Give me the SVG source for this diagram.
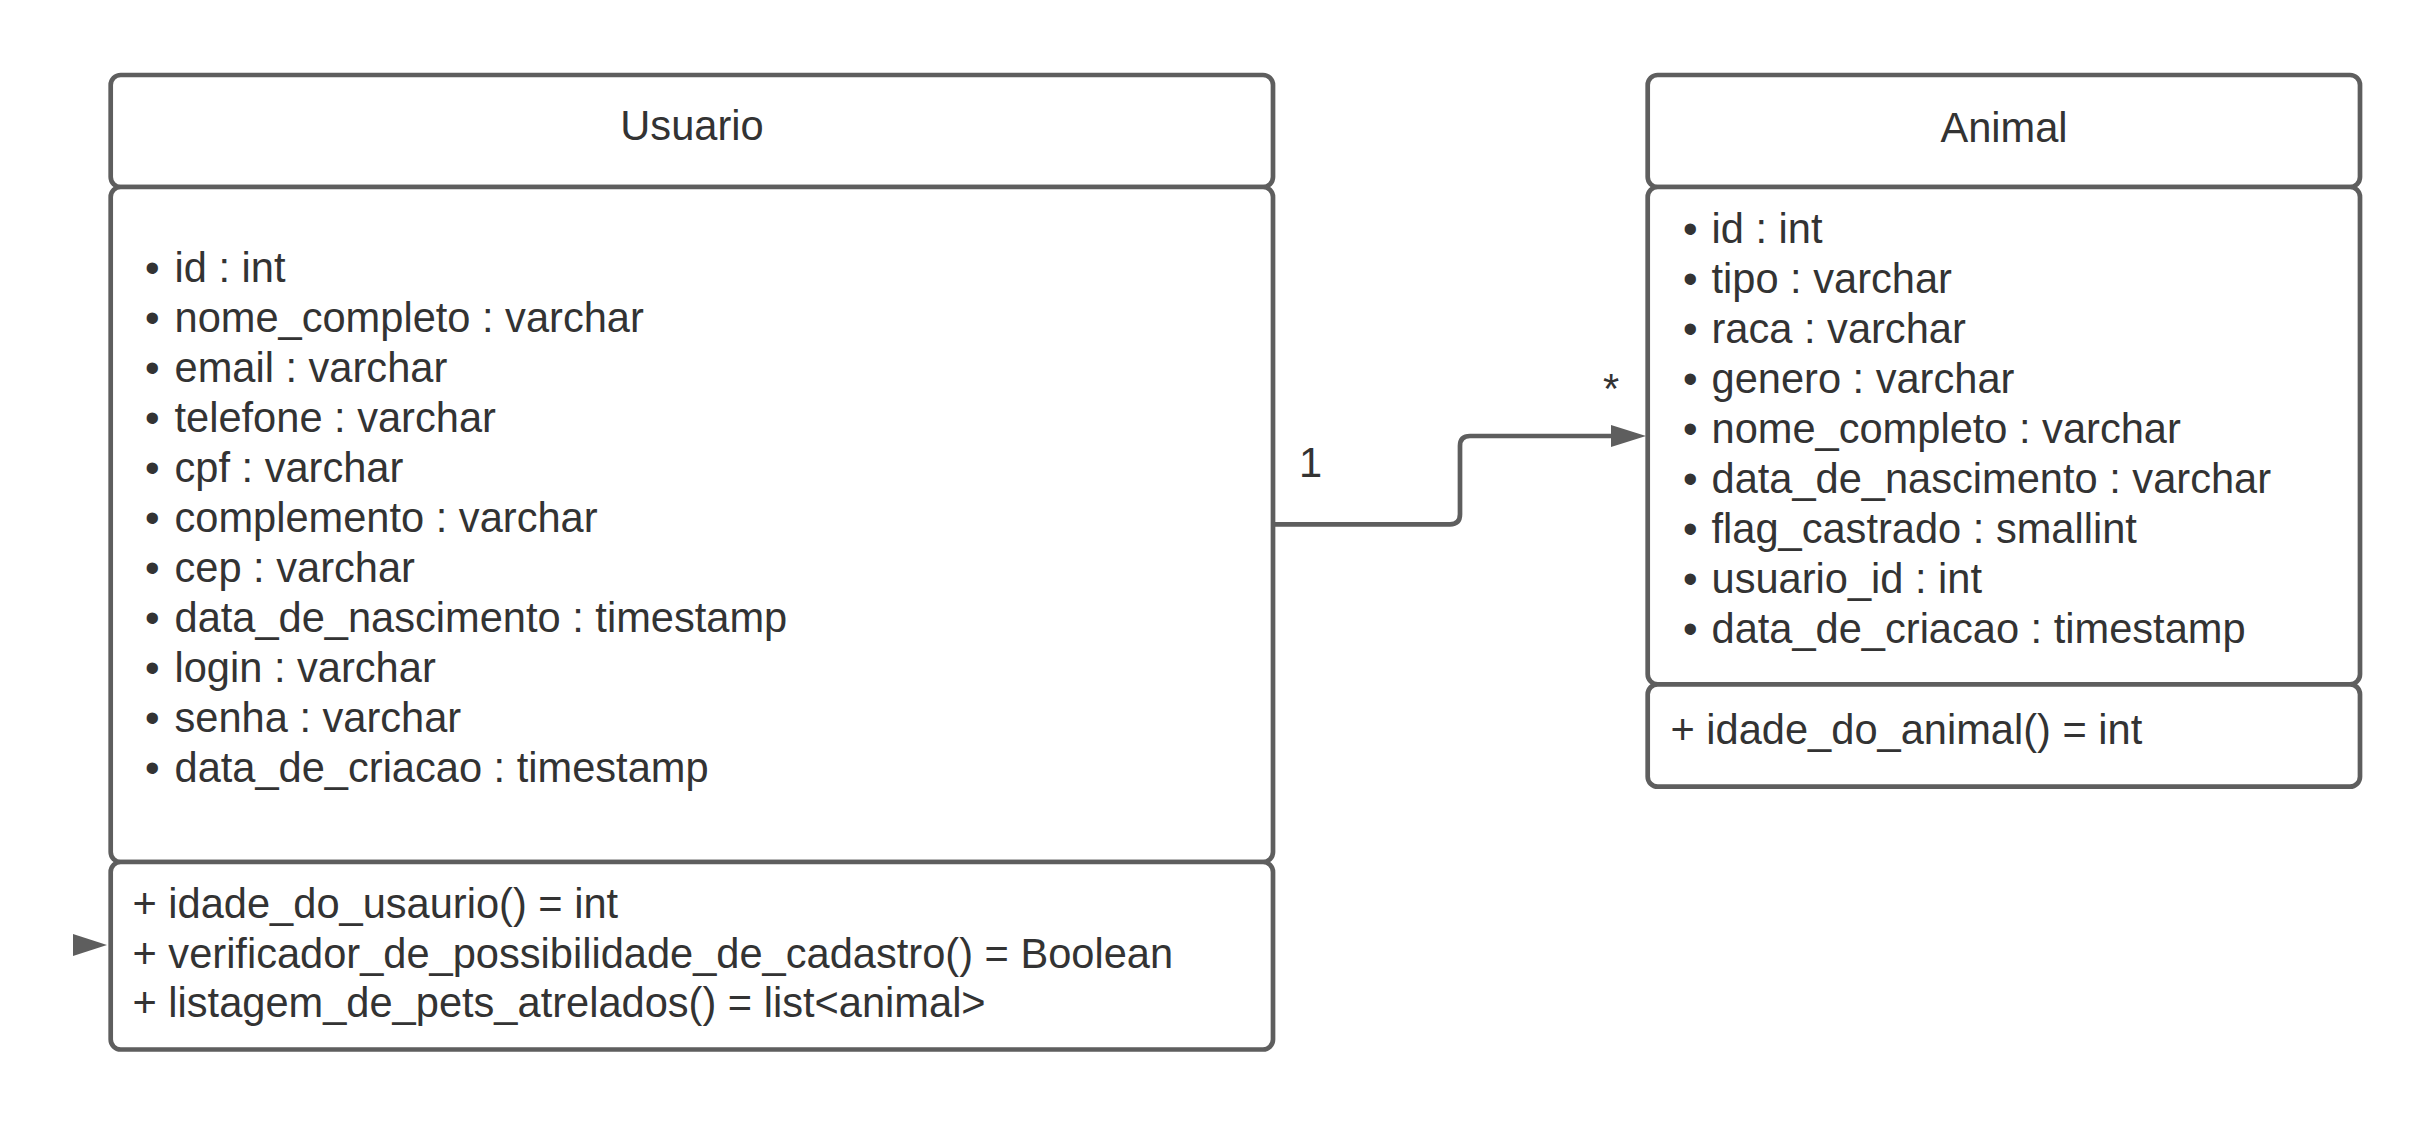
<svg xmlns="http://www.w3.org/2000/svg" width="2436" height="1125" viewBox="0 0 2436 1125">
<style>
.box{fill:#ffffff;stroke:#5e5e5e;stroke-width:4.7}
.t{font-family:"Liberation Sans",Arial,sans-serif;font-size:41.6px;fill:#333333}
.c{text-anchor:middle}
.line{fill:none;stroke:#5e5e5e;stroke-width:4.7}
.head{fill:#5e5e5e;stroke:none}
</style>
<rect width="2436" height="1125" fill="#ffffff"/>
<g id="connectors">
<path class="line" d="M1273,524.3 H1450 Q1460,524.3 1460,514.3 V446 Q1460,436 1470,436 H1615"/>
<polygon class="head" points="1646,436 1611,425 1611,447"/>
<polygon class="head" points="107,945 73,934 73,956"/>
<text class="t" x="1299" y="477">1</text>
<text class="t" x="1603" y="403">*</text>
</g>
<g id="usuario">
<rect class="box" x="110.7" y="75" width="1162.3" height="112" rx="10"/>
<rect class="box" x="110.7" y="187" width="1162.3" height="675" rx="10"/>
<rect class="box" x="110.7" y="862" width="1162.3" height="187.5" rx="10"/>
<text class="t c" x="692" y="140">Usuario</text>
<g class="t">
<text x="145" y="281.7">•</text><text x="174.5" y="281.7">id : int</text>
<text x="145" y="331.7">•</text><text x="174.5" y="331.7">nome_completo : varchar</text>
<text x="145" y="381.7">•</text><text x="174.5" y="381.7">email : varchar</text>
<text x="145" y="431.7">•</text><text x="174.5" y="431.7">telefone : varchar</text>
<text x="145" y="481.7">•</text><text x="174.5" y="481.7">cpf : varchar</text>
<text x="145" y="531.7">•</text><text x="174.5" y="531.7">complemento : varchar</text>
<text x="145" y="581.7">•</text><text x="174.5" y="581.7">cep : varchar</text>
<text x="145" y="631.7">•</text><text x="174.5" y="631.7">data_de_nascimento : timestamp</text>
<text x="145" y="681.7">•</text><text x="174.5" y="681.7">login : varchar</text>
<text x="145" y="731.7">•</text><text x="174.5" y="731.7">senha : varchar</text>
<text x="145" y="781.7">•</text><text x="174.5" y="781.7">data_de_criacao : timestamp</text>
<text x="132.5" y="918.3">+ idade_do_usaurio() = int</text>
<text x="132.5" y="967.7">+ verificador_de_possibilidade_de_cadastro() = Boolean</text>
<text x="132.5" y="1017">+ listagem_de_pets_atrelados() = list&lt;animal&gt;</text>
</g>
</g>
<g id="animal">
<rect class="box" x="1647.7" y="75" width="712.3" height="112" rx="10"/>
<rect class="box" x="1647.7" y="187" width="712.3" height="497.3" rx="10"/>
<rect class="box" x="1647.7" y="684.3" width="712.3" height="102.4" rx="10"/>
<text class="t c" x="2004" y="142">Animal</text>
<g class="t">
<text x="1683" y="242.7">•</text><text x="1711.5" y="242.7">id : int</text>
<text x="1683" y="292.7">•</text><text x="1711.5" y="292.7">tipo : varchar</text>
<text x="1683" y="342.7">•</text><text x="1711.5" y="342.7">raca : varchar</text>
<text x="1683" y="392.7">•</text><text x="1711.5" y="392.7">genero : varchar</text>
<text x="1683" y="442.7">•</text><text x="1711.5" y="442.7">nome_completo : varchar</text>
<text x="1683" y="492.7">•</text><text x="1711.5" y="492.7">data_de_nascimento : varchar</text>
<text x="1683" y="542.7">•</text><text x="1711.5" y="542.7">flag_castrado : smallint</text>
<text x="1683" y="592.7">•</text><text x="1711.5" y="592.7">usuario_id : int</text>
<text x="1683" y="642.7">•</text><text x="1711.5" y="642.7">data_de_criacao : timestamp</text>
<text x="1670.5" y="744">+ idade_do_animal() = int</text>
</g>
</g>
</svg>
